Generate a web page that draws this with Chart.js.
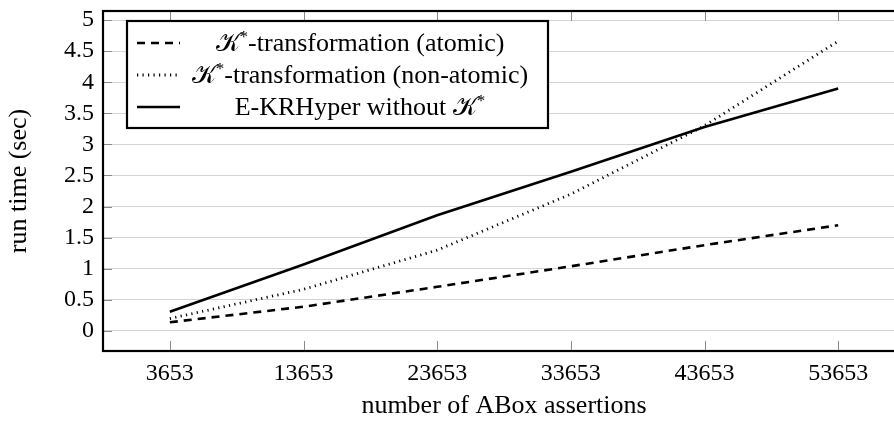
<!DOCTYPE html>
<html>
<head>
<meta charset="utf-8">
<script src="https://cdn.jsdelivr.net/npm/chart.js@4.4.1/dist/chart.umd.min.js"></script>
<style>
  html, body { margin: 0; padding: 0; background: #fff; overflow: hidden; }
  #wrap { position: absolute; left: 0; top: 0; width: 905px; height: 432px; }
</style>
</head>
<body>
<div id="wrap"><canvas id="c" width="905" height="432"></canvas></div>
<script>
const xValues = [3653, 13653, 23653, 33653, 43653, 53653];
const atomic = [0.14, 0.39, 0.71, 1.04, 1.38, 1.70];
const nonAtomic = [0.20, 0.67, 1.30, 2.20, 3.30, 4.66];
const withoutK = [0.31, 1.07, 1.86, 2.56, 3.28, 3.90];
const yTicks = [0, 0.5, 1, 1.5, 2, 2.5, 3, 3.5, 4, 4.5, 5];
const legendLabels = ['-transformation (atomic)', '-transformation (non-atomic)', 'E-KRHyper without '];
const xTitle = 'number of ABox assertions';
const yTitle = 'run time (sec)';

const FONT = '"Liberation Serif", "DejaVu Serif", serif';
const FS_TICK = 24;
const FS_TEXT = 26;

function pts(arr) { return xValues.map((x, i) => ({ x: x, y: arr[i] })); }

const frameAndTicks = {
  id: 'frameAndTicks',
  afterDatasetsDraw(chart) {
    const ctx = chart.ctx, a = chart.chartArea;
    const xs = chart.scales.x, ys = chart.scales.y;
    ctx.save();
    ctx.strokeStyle = '#8a8a8a';
    ctx.lineWidth = 1;
    xValues.forEach(v => {
      const px = Math.round(xs.getPixelForValue(v)) + 0.5;
      ctx.beginPath();
      ctx.moveTo(px, a.bottom); ctx.lineTo(px, a.bottom - 10);
      ctx.moveTo(px, a.top); ctx.lineTo(px, a.top + 10);
      ctx.stroke();
    });
    yTicks.forEach(v => {
      const py = Math.round(ys.getPixelForValue(v)) + 0.5;
      ctx.beginPath();
      ctx.moveTo(a.left, py); ctx.lineTo(a.left + 9, py);
      ctx.moveTo(a.right, py); ctx.lineTo(a.right - 9, py);
      ctx.stroke();
    });
    ctx.strokeStyle = '#000';
    ctx.lineWidth = 2.2;
    ctx.strokeRect(a.left, a.top, a.right - a.left, a.bottom - a.top);
    ctx.restore();
  },
  afterDraw(chart) {
    const ctx = chart.ctx;
    const bx = 127, by = 21, bw = 421, bh = 107;
    ctx.save();
    ctx.fillStyle = '#fff';
    ctx.fillRect(bx, by, bw, bh);
    ctx.strokeStyle = '#000';
    ctx.lineWidth = 2.2;
    ctx.strokeRect(bx, by, bw, bh);
    const rows = [43, 75, 107];
    const styles = [
      { dash: [8, 6], w: 2.6 },
      { dash: [1.2, 4.3], w: 2.8 },
      { dash: [], w: 2.6 }
    ];
    rows.forEach((ry, i) => {
      ctx.beginPath();
      ctx.setLineDash(styles[i].dash);
      ctx.lineWidth = styles[i].w;
      ctx.moveTo(137, ry); ctx.lineTo(180, ry);
      ctx.stroke();
    });
    ctx.setLineDash([]);
    ctx.fillStyle = '#000';
    ctx.textBaseline = 'alphabetic';
    const cx = 360;
    const kFont = FS_TEXT + 'px ' + FONT;
    const tFont = FS_TEXT + 'px ' + FONT;
    const sFont = Math.round(FS_TEXT * 0.65) + 'px ' + FONT;
    rows.forEach((ry, i) => {
      const base = ry + 8;
      ctx.font = kFont; const wk = ctx.measureText('\u{1D4A6}').width;
      ctx.font = sFont; const ws = ctx.measureText('*').width;
      ctx.font = tFont; const wt = ctx.measureText(legendLabels[i]).width;
      const total = wk + ws + wt;
      let x = cx - total / 2;
      if (i < 2) {
        ctx.font = kFont; ctx.fillText('\u{1D4A6}', x, base); x += wk;
        ctx.font = sFont; ctx.fillText('*', x, base - 9); x += ws;
        ctx.font = tFont; ctx.fillText(legendLabels[i], x, base);
      } else {
        ctx.font = tFont; ctx.fillText(legendLabels[i], x, base); x += wt;
        ctx.font = kFont; ctx.fillText('\u{1D4A6}', x, base); x += wk;
        ctx.font = sFont; ctx.fillText('*', x, base - 9);
      }
    });
    ctx.restore();
  }
};

new Chart(document.getElementById('c'), {
  type: 'line',
  data: {
    datasets: [
      { label: 'atomic', data: pts(atomic), borderColor: '#000', borderWidth: 2.6, borderDash: [8, 6], pointRadius: 0, fill: false, tension: 0 },
      { label: 'non-atomic', data: pts(nonAtomic), borderColor: '#000', borderWidth: 2.8, borderDash: [1.2, 4.3], pointRadius: 0, fill: false, tension: 0 },
      { label: 'without', data: pts(withoutK), borderColor: '#000', borderWidth: 2.6, pointRadius: 0, fill: false, tension: 0 }
    ]
  },
  options: {
    responsive: false,
    animation: false,
    layout: { padding: { top: 11, right: 0, left: 0, bottom: 0 } },
    plugins: { legend: { display: false }, tooltip: { enabled: false } },
    scales: {
      x: {
        type: 'linear',
        min: -1347, max: 58653,
        afterBuildTicks: s => { s.ticks = xValues.map(v => ({ value: v })); },
        afterFit: s => { s.height = 81; s.paddingLeft = 0; s.paddingRight = 0; },
        grid: { display: false, drawTicks: false },
        border: { display: false },
        ticks: { color: '#000', font: { family: FONT, size: FS_TICK }, padding: 8, maxRotation: 0, callback: v => String(v) },
        title: { display: true, text: xTitle, color: '#000', font: { family: FONT, size: FS_TEXT }, padding: { top: 18, bottom: 10 } }
      },
      y: {
        min: -0.322, max: 5.145,
        afterBuildTicks: s => { s.ticks = yTicks.map(v => ({ value: v })); },
        afterFit: s => { s.width = 103; s.paddingTop = 0; s.paddingBottom = 0; },
        grid: { color: '#d4d4d4', lineWidth: 1, drawTicks: false },
        border: { display: false },
        ticks: { color: '#000', font: { family: FONT, size: FS_TICK }, padding: 9, callback: v => String(v) },
        title: { display: true, text: yTitle, color: '#000', font: { family: FONT, size: FS_TEXT }, padding: { top: 4, bottom: 4 } }
      }
    }
  },
  plugins: [frameAndTicks]
});
</script>
</body>
</html>
